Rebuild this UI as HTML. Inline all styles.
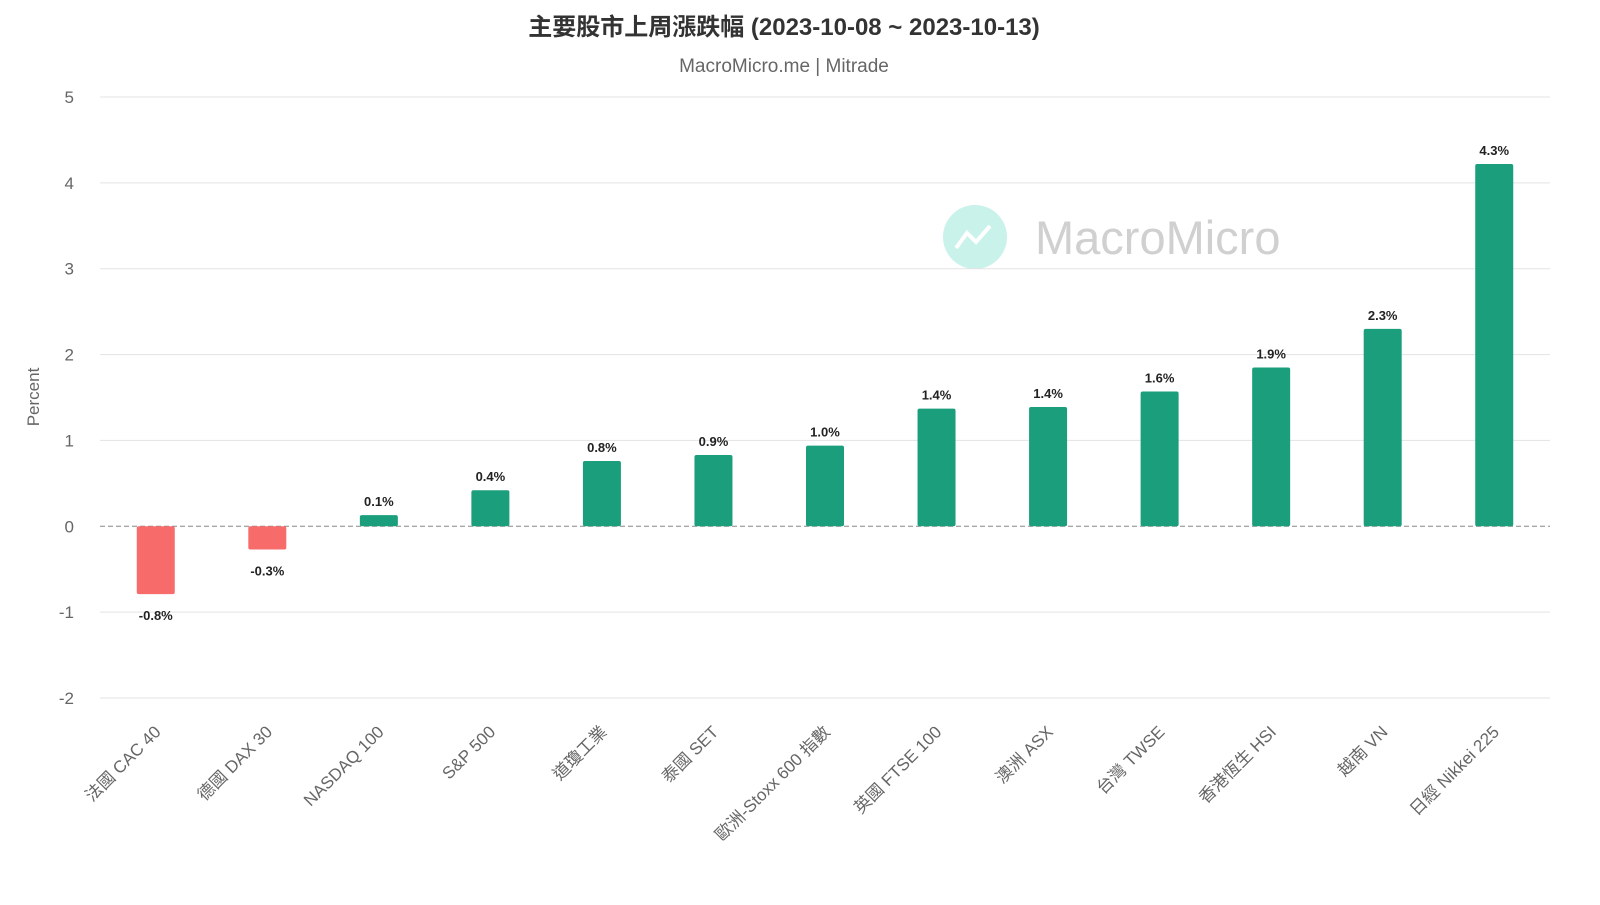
<!DOCTYPE html>
<html><head><meta charset="utf-8"><style>
html,body{margin:0;padding:0;background:#fff;}
svg text{font-family:"Liberation Sans","Noto Sans CJK TC",sans-serif;}
</style></head><body>
<svg id="chart" width="1600" height="900" xmlns="http://www.w3.org/2000/svg">
<text x="784" y="35" text-anchor="middle" font-size="24" font-weight="bold" fill="#333">主要股市上周漲跌幅 (2023-10-08 ~ 2023-10-13)</text>
<text x="784" y="72" text-anchor="middle" font-size="19" fill="#666">MacroMicro.me | Mitrade</text>
<g>
<circle cx="975" cy="237" r="32" fill="#c8f2ea"/>
<polyline points="956,248 967,233 976,242 990,226" fill="none" stroke="#fff" stroke-width="4"/>
<text x="1035" y="254" font-size="47" fill="#d0d0d0">MacroMicro</text>
</g>
<g id="grid"></g>
<g id="bars"></g>
<g id="xlabels"></g>
<text transform="translate(39,397) rotate(-90)" text-anchor="middle" font-size="17" fill="#666">Percent</text>
</svg>
<script>
const categories=["法國 CAC 40","德國 DAX 30","NASDAQ 100","S&P 500","道瓊工業","泰國 SET","歐洲-Stoxx 600 指數","英國 FTSE 100","澳洲 ASX","台灣 TWSE","香港恆生 HSI","越南 VN","日經 Nikkei 225"];
const values=[-0.79,-0.27,0.13,0.42,0.76,0.83,0.94,1.37,1.39,1.57,1.85,2.30,4.22];
const valueLabels=["-0.8%","-0.3%","0.1%","0.4%","0.8%","0.9%","1.0%","1.4%","1.4%","1.6%","1.9%","2.3%","4.3%"];
const yTicks=[5,4,3,2,1,0,-1,-2];
const NS="http://www.w3.org/2000/svg";
const L=100,R=1550,yMax=5,yMin=-2,T=97,B=698;
const y=v=>T+(yMax-v)/(yMax-yMin)*(B-T);
const band=(R-L)/categories.length;
const x=i=>L+band*(i+0.5);
function mk(tag,attrs,parent,txt){const e=document.createElementNS(NS,tag);for(const k in attrs)e.setAttribute(k,attrs[k]);if(txt!==undefined)e.textContent=txt;parent.appendChild(e);return e;}
const grid=document.getElementById('grid'),bars=document.getElementById('bars'),xl=document.getElementById('xlabels');
yTicks.forEach(t=>{
  if(t!==0){const g=mk('line',{x1:L,x2:R,y1:y(t),y2:y(t),stroke:'#e3e3e3','stroke-width':1},grid);
  
  }
  const tx=mk('text',{x:74,y:y(t)+6,'text-anchor':'end','font-size':17,fill:'#666'},grid,String(t));
  
  
});
const zl=mk('line',{x1:L,x2:R,y1:y(0),y2:y(0),stroke:'#888','stroke-width':1,'stroke-dasharray':'5,3'},grid);


const bw=38;
values.forEach((v,i)=>{
  const top=Math.min(y(v),y(0)),h=Math.abs(y(v)-y(0));
  const r=mk('rect',{x:x(i)-bw/2,y:top,width:bw,height:h,rx:2,fill:v>=0?'#1a9e7c':'#f76b6b'},bars);
  
  
  const ly=v>=0?y(v)-9:y(v)+26;
  const t=mk('text',{x:x(i),y:ly,'text-anchor':'middle','font-size':13,'font-weight':'bold',fill:'#222'},bars,valueLabels[i]);
  
  
  const c=mk('text',{'text-anchor':'end','font-size':17,fill:'#666',transform:`translate(${x(i)+6},${733}) rotate(-45)`},xl,categories[i]);
  
  
});
</script>
</body></html>
